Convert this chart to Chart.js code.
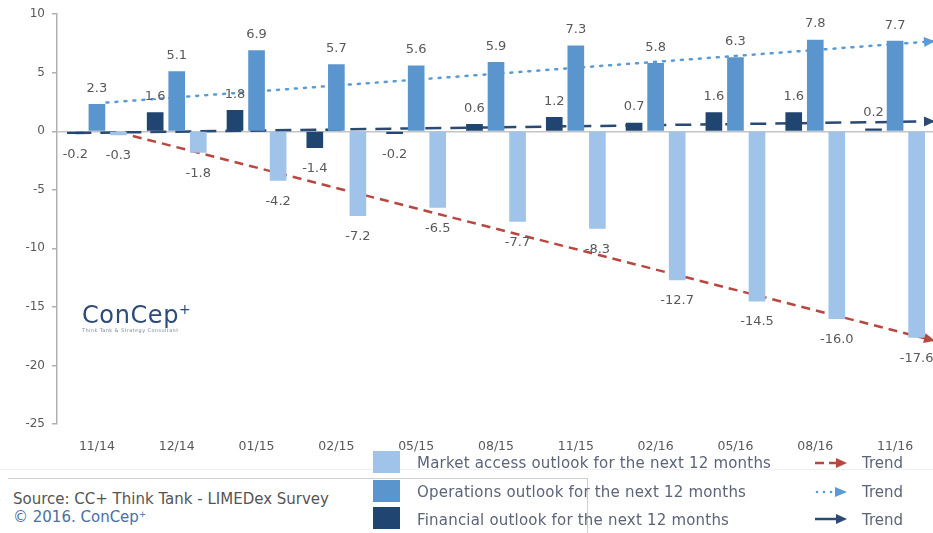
<!DOCTYPE html>
<html>
<head>
<meta charset="utf-8">
<script src="https://cdn.jsdelivr.net/npm/chart.js@4.4.1/dist/chart.umd.min.js"></script>
<style>
    body { margin: 0; background: #fff; overflow: hidden; }
    #wrap { position: relative; width: 933px; height: 533px; overflow: hidden; font-family: 'DejaVu Sans', sans-serif; }
    #chartCanvas { position: absolute; left: 0; top: 0; }
    .sq { position: absolute; left: 373px; width: 27px; height: 22px; }
    .leg { position: absolute; left: 417px; font-size: 15px; letter-spacing: 0.2px; color: #5b6478; line-height: 16px; white-space: nowrap; }
    .trend { position: absolute; left: 862px; font-size: 15px; color: #5b6478; line-height: 16px; }
    .icon { position: absolute; left: 814px; }
    .logo { position: absolute; left: 82px; top: 295px; color: #2d4b7a; }
</style>
</head>
<body>
<div id="wrap">
    <canvas id="chartCanvas" width="945" height="460"></canvas>

    <div class="logo">
        <div style="font-size:24px; letter-spacing:0.6px; line-height:28px;">ConCep<sup style="font-size:14px;">+</sup></div>
        <div style="font-size:5px; color:#7a8aa5; margin-top:-2px; letter-spacing:0.4px;">Think Tank &amp; Strategy Consultant</div>
    </div>

    <div style="position:absolute; left:0; top:469px; width:933px; height:1px; background:#f0f0f0;"></div>
    <div style="position:absolute; left:8px; top:478px; width:579px; height:1px; background:#cfcfcf;"></div>
    <div style="position:absolute; left:587px; top:478px; width:1px; height:55px; background:#cfcfcf;"></div>

    <div style="position:absolute; left:13px; top:490px; font-size:15px; color:#555;">Source: CC+ Think Tank - LIMEDex Survey</div>
    <div style="position:absolute; left:13px; top:508px; font-size:15px; color:#4a6fa5;">© 2016. ConCep<span style="font-size:9px; vertical-align:5px;">+</span></div>

    <div class="sq" style="top:451px; background:#9fc3e9;"></div>
    <div class="sq" style="top:480px; background:#5b95cd;"></div>
    <div class="sq" style="top:507px; background:#1f4570;"></div>
    <div class="leg" style="top:455px;">Market access outlook for the next 12 months</div>
    <div class="leg" style="top:484px;">Operations outlook for the next 12 months</div>
    <div class="leg" style="top:512px;">Financial outlook for the next 12 months</div>

    <svg class="icon" style="top:457px;" width="34" height="12">
        <line x1="1" y1="6" x2="10" y2="6" stroke="#b8473f" stroke-width="2.5"/>
        <line x1="15" y1="6" x2="24" y2="6" stroke="#b8473f" stroke-width="2.5"/>
        <polygon points="22,1 33,6 22,11" fill="#b8473f"/>
    </svg>
    <svg class="icon" style="top:486px;" width="34" height="12">
        <circle cx="3" cy="6" r="1.3" fill="#5b9bd5"/>
        <circle cx="10" cy="6" r="1.3" fill="#5b9bd5"/>
        <circle cx="17" cy="6" r="1.3" fill="#5b9bd5"/>
        <polygon points="21,1 33,6 21,11" fill="#5b9bd5"/>
    </svg>
    <svg class="icon" style="top:513px;" width="34" height="12">
        <line x1="1" y1="6" x2="24" y2="6" stroke="#2a4a73" stroke-width="2.5"/>
        <polygon points="22,1 33,6 22,11" fill="#2a4a73"/>
    </svg>
    <div class="trend" style="top:455px;">Trend</div>
    <div class="trend" style="top:484px;">Trend</div>
    <div class="trend" style="top:512px;">Trend</div>
</div>

<script>
// Chart data
const categories = ['11/14', '12/14', '01/15', '02/15', '05/15', '08/15', '11/15', '02/16', '05/16', '08/16', '11/16'];
const financial = [-0.2, 1.6, 1.8, -1.4, -0.2, 0.6, 1.2, 0.7, 1.6, 1.6, 0.2];
const operations = [2.3, 5.1, 6.9, 5.7, 5.6, 5.9, 7.3, 5.8, 6.3, 7.8, 7.7];
const marketAccess = [-0.3, -1.8, -4.2, -7.2, -6.5, -7.7, -8.3, -12.7, -14.5, -16.0, -17.6];

// Trend line end points (x = category index)
const marketTrend = [{ x: 0.45, y: -0.4 }, { x: 10.5, y: -17.9 }];
const operationsTrend = [{ x: 0.12, y: 2.45 }, { x: 10.5, y: 7.7 }];
const financialTrend = [{ x: -0.27, y: -0.15 }, { x: 10.5, y: 0.85 }];

const FONT = 'DejaVu Sans';
const TEXT_COLOR = '#595959';
const SHIFT = 0.27; // bar offset inside a category group

// place a series at its slot in each category group
function slot(values, shift) {
    return values.map((v, i) => ({ x: i + shift, y: v }));
}

// Value labels above / below each bar
const barLabels = {
    id: 'barLabels',
    afterDatasetsDraw(chart) {
        const ctx = chart.ctx;
        ctx.save();
        ctx.font = `13px '${FONT}'`;
        ctx.fillStyle = TEXT_COLOR;
        ctx.textAlign = 'center';
        ctx.textBaseline = 'middle';
        chart.data.datasets.forEach((ds, i) => {
            if (ds.type === 'line') return;
            const meta = chart.getDatasetMeta(i);
            meta.data.forEach((bar, j) => {
                const v = ds.data[j].y;
                const y = v >= 0 ? bar.y - 16 : bar.y + 21;
                ctx.fillText(v.toFixed(1), bar.x, y);
            });
        });
        ctx.restore();
    }
};

// Arrow heads at the end of trend lines
const trendArrows = {
    id: 'trendArrows',
    afterDatasetsDraw(chart) {
        const ctx = chart.ctx;
        chart.data.datasets.forEach((ds, i) => {
            if (ds.type !== 'line') return;
            const pts = chart.getDatasetMeta(i).data;
            const a = pts[pts.length - 2];
            const b = pts[pts.length - 1];
            const ang = Math.atan2(b.y - a.y, b.x - a.x);
            const len = 11, half = 5;
            ctx.save();
            ctx.translate(b.x, b.y);
            ctx.rotate(ang);
            ctx.beginPath();
            ctx.moveTo(0, 0);
            ctx.lineTo(-len, -half);
            ctx.lineTo(-len, half);
            ctx.closePath();
            ctx.fillStyle = ds.borderColor;
            ctx.fill();
            ctx.restore();
        });
    }
};

const barDefaults = {
    grouped: false,
    categoryPercentage: 1,
    barPercentage: 1,
    maxBarThickness: 16,
    borderWidth: 0
};

const ctx = document.getElementById('chartCanvas').getContext('2d');
const chart = new Chart(ctx, {
    type: 'bar',
    data: {
        datasets: [
            Object.assign({
                label: 'Financial outlook for the next 12 months',
                data: slot(financial, -SHIFT),
                backgroundColor: '#1f4570'
            }, barDefaults),
            Object.assign({
                label: 'Operations outlook for the next 12 months',
                data: slot(operations, 0),
                backgroundColor: '#5b95cd'
            }, barDefaults),
            Object.assign({
                label: 'Market access outlook for the next 12 months',
                data: slot(marketAccess, SHIFT),
                backgroundColor: '#9fc3e9'
            }, barDefaults),
            {
                type: 'line',
                label: 'Trend',
                data: marketTrend,
                borderColor: '#b8473f',
                borderWidth: 2.5,
                borderDash: [9, 6],
                pointRadius: 0,
                fill: false
            },
            {
                type: 'line',
                label: 'Trend',
                data: operationsTrend,
                borderColor: '#5b9bd5',
                borderWidth: 2.5,
                borderDash: [2, 7],
                borderCapStyle: 'round',
                pointRadius: 0,
                fill: false
            },
            {
                type: 'line',
                label: 'Trend',
                data: financialTrend,
                borderColor: '#2a4a73',
                borderWidth: 2.5,
                borderDash: [16, 9],
                pointRadius: 0,
                fill: false
            }
        ]
    },
    options: {
        responsive: false,
        animation: false,
        layout: {
            padding: { top: 11, right: 10, left: 0, bottom: 0 }
        },
        scales: {
            x: {
                type: 'linear',
                offset: false,
                min: -0.5,
                max: 10.5,
                grid: { display: false, drawTicks: false, offset: false },
                border: { display: false },
                afterBuildTicks: s => { s.ticks = categories.map((c, i) => ({ value: i })); },
                ticks: {
                    color: TEXT_COLOR,
                    padding: 15,
                    font: { family: FONT, size: 12.5 },
                    callback: v => categories[v]
                },
                afterFit: s => { s.height = 36; }
            },
            y: {
                min: -25,
                max: 10,
                ticks: {
                    stepSize: 5,
                    color: TEXT_COLOR,
                    padding: 7,
                    font: { family: FONT, size: 12 }
                },
                grid: {
                    color: c => (c.tick && c.tick.value === 0) ? '#c4c4c4' : 'rgba(0,0,0,0)',
                    lineWidth: 1.5,
                    tickColor: '#b0b0b0',
                    tickLength: 5
                },
                border: { color: '#b0b0b0', width: 1.5 },
                afterFit: s => { s.width = 57; }
            }
        },
        plugins: {
            legend: { display: false },
            tooltip: { enabled: false }
        }
    },
    plugins: [barLabels, trendArrows]
});
</script>
</body>
</html>
